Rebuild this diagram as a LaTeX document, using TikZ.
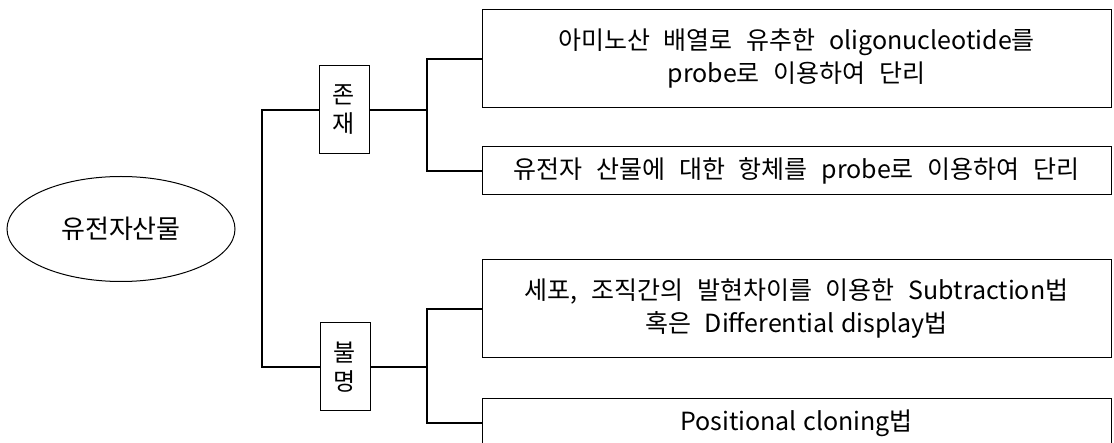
\documentclass[tikz,border=0pt]{standalone}
\usepackage{fontspec}
\newfontfamily\kr{Noto Sans CJK KR}
\newcommand\krtext[2]{\kr\fontsize{#1}{#2}\selectfont\spaceskip=0.55em plus 0.1em\relax}
\newcommand\lsp{\hskip0.26em\relax}
\usetikzlibrary{shapes.geometric}
\tikzset{
  conn/.style={line width=1.6pt},
  sbox/.style={draw, line width=1pt, minimum width=50pt, minimum height=88pt, inner sep=0pt, align=center, font=\krtext{24}{29}},
  wbox/.style={draw, line width=1pt, minimum width=629pt, inner sep=0pt, align=center},
}
\begin{document}
\begin{tikzpicture}[x=1pt,y=-1pt, font=\krtext{25}{33}]
\clip (0,0) rectangle (1114,443);
\node[ellipse, draw, line width=1pt, minimum width=228pt, minimum height=105pt, inner sep=0pt, font=\krtext{26}{30}] (root) at (121,229) {유전자산물};
\node[sbox] (exist) at (344,110) {존\\재};
\node[sbox] (unk) at (345,367) {불\\명};
\node[wbox, minimum height=98pt] (b1) at (796.5,59) {아미노산 배열로 유추한 oligonucleotide를\\probe로 이용하여 단리};
\node[wbox, minimum height=48pt] (b2) at (796.5,171) {유전자 산물에 대한 항체를 probe로 이용하여 단리};
\node[wbox, minimum height=98pt] (b3) at (796.5,309) {세포, 조직간의 발현차이를 이용한 Subtraction법\\혹은 Differential\lsp display법};
\node[wbox, minimum height=48pt] (b4) at (796.5,423) {Positional\lsp cloning법};
\coordinate (lj) at (262,0);
\coordinate (j1) at (427,110);
\coordinate (j2) at (427,367);
\draw[conn] (exist.west) -| (lj |- unk.west) -- (unk.west);
\draw[conn] (exist.east) -- (j1);
\draw[conn] (b1.west) -| (j1) |- (b2.west);
\draw[conn] (unk.east) -- (j2);
\draw[conn] (b3.west) -| (j2) |- (b4.west);
\end{tikzpicture}
\end{document}
